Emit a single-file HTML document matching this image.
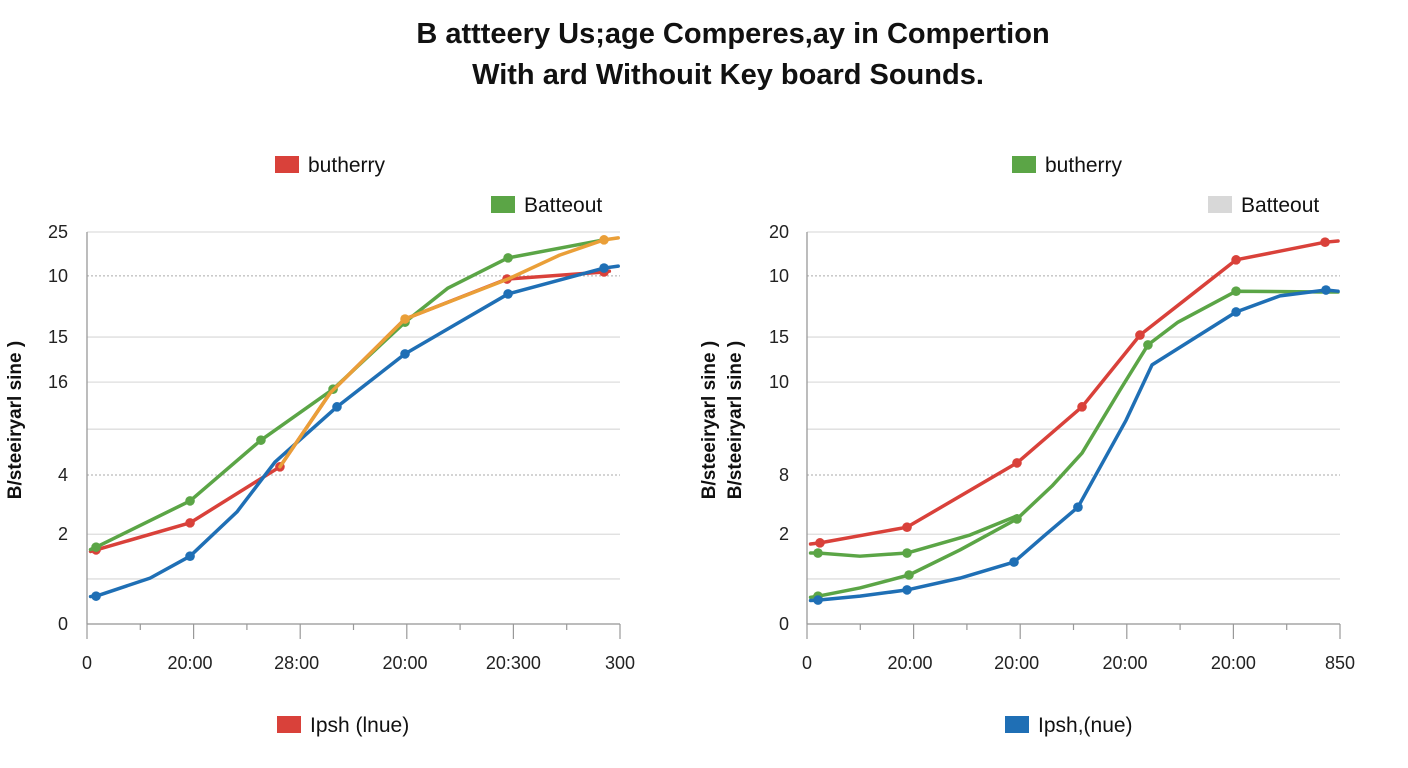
<!DOCTYPE html>
<html><head><meta charset="utf-8"><style>
html,body{margin:0;padding:0;background:#fff;}
svg{display:block;font-family:"Liberation Sans",Arial,sans-serif;}
</style></head><body>
<svg id="c" width="1408" height="768" viewBox="0 0 1408 768">
<text x="733" y="43" text-anchor="middle" font-size="29" font-weight="bold" fill="#111">B attteery  Us;age Comperes,ay in Compertion</text>
<text x="728" y="84" text-anchor="middle" font-size="29" font-weight="bold" fill="#111">With ard Withouit Key board Sounds.</text>
<g id="L"></g>
<g id="R"></g>
</svg>
<script>
// ---- data (x in minutes 0..300, y in battery units 0..100) ----
const yTickLabelsL = ["25","10","15","16","4","2","0"];
const yTickLabelsR = ["20","10","15","10","8","2","0"];
const yTickVals = [100,88.8,73.2,61.7,38,22.9,0];
const gridVals = [100,88.8,73.2,61.7,49.7,38,22.9,11.5,0];
const dottedVals = [88.8,38];
const xTickLabelsL = ["0","20:00","28:00","20:00","20:300","300"];
const xTickLabelsR = ["0","20:00","20:00","20:00","20:00","850"];
const xTickVals = [0,58,118,179,240,300];

const redLx=[2,5.1,58,108.6,118.8,136.8,179,236.4,291,294], redLy=[18.5,18.9,25.8,40.1,46.9,58.9,77.8,88.0,89.8,90], redLm=[0,1,1,1,0,0,0,1,1,0];
const greenLx=[2,5.1,58,97.9,138.5,179,203.2,237,291], greenLy=[19,19.6,31.4,46.9,59.9,77.0,85.7,93.4,98.0], greenLm=[0,1,1,1,1,1,0,1,0];
const blueLx=[2,5.1,35.5,58,84.4,105.8,140.7,179,207,237,291,299], blueLy=[7,7.1,11.7,17.3,28.6,41.3,55.4,68.9,76.3,84.2,90.8,91.3], blueLm=[0,1,0,1,0,0,1,1,0,1,1,0];
const orangeLx=[108.6,118.8,136.8,179,237,266,291,299], orangeLy=[40.1,46.9,58.9,77.8,88.0,94.1,98.0,98.5], orangeLm=[0,0,0,1,0,0,1,0];

const redRx=[2,7.3,56.3,118.2,154.8,187.4,212.8,241.5,291.6,298.9], redRy=[20.4,20.7,24.7,41.1,55.4,73.7,82.7,92.9,97.4,97.7], redRm=[0,1,1,1,1,1,0,1,1,0];
const greenARx=[2,6.2,29.8,56.3,91.7,118.2], greenARy=[18.1,18.1,17.3,18.1,22.7,27.6], greenARm=[0,1,0,1,0,0];
const greenBRx=[2,6.2,29.8,57.4,86.1,118.2,137.9,154.8,176.2,191.9,208.8,241.5,291.6,298.9], greenBRy=[6.8,7.1,9.2,12.5,18.9,26.8,35.2,43.6,59.7,71.2,77.0,84.9,84.7,84.7], greenBRm=[0,1,0,1,0,1,0,0,0,1,0,1,0,0];
const blueRx=[2,6.2,29.8,56.3,86.1,116.5,134,152.5,179.6,194.2,241.5,266.2,292.1,298.9], blueRy=[6.0,6.1,7.1,8.7,11.7,15.8,22.7,29.8,52.0,66.1,79.6,83.7,85.2,84.9], blueRm=[0,1,0,1,0,1,0,1,0,0,1,0,1,0];

const NS="http://www.w3.org/2000/svg";
function mk(parent,tag,attrs,txt){const e=document.createElementNS(NS,tag);for(const k in attrs)e.setAttribute(k,attrs[k]);if(txt!=null)e.textContent=txt;parent.appendChild(e);return e;}
const Y0=624,Y1=232;
function yS(v){return Y0-(v/100)*(Y0-Y1);}

function panel(g,x0,x1,yLabels,xLabels,yLabX,series,legs){
  const xS=v=>x0+(v/300)*(x1-x0);
  gridVals.forEach(v=>{
    const dotted=dottedVals.includes(v);
    const l=mk(g,'line',{x1:x0,x2:x1,y1:yS(v),y2:yS(v),stroke:dotted?'#aaa':'#ddd','stroke-width':dotted?1:1.3,'stroke-dasharray':dotted?'2,2':''});
    
    
  });
  mk(g,'line',{x1:x0,x2:x0,y1:Y1,y2:Y0,stroke:'#999','stroke-width':1.3});
  mk(g,'line',{x1:x0,x2:x1,y1:Y0,y2:Y0,stroke:'#999','stroke-width':1.3});
  for(let i=0;i<=10;i++){const xx=x0+i*(x1-x0)/10;mk(g,'line',{x1:xx,x2:xx,y1:Y0,y2:Y0+(i%2?6:15),stroke:'#999','stroke-width':1.2});}
  yLabels.forEach((t,i)=>{
    const e=mk(g,'text',{x:yLabX,y:yS(yTickVals[i])+6,'text-anchor':'end','font-size':18,fill:'#222'},t);
    
    
  });
  xLabels.forEach((t,i)=>{
    const e=mk(g,'text',{x:xS(xTickVals[i]),y:669,'text-anchor':'middle','font-size':18,fill:'#222'},t);
    
    
  });
  series.forEach(s=>{
    const pts=s.x.map((v,i)=>xS(v)+','+yS(s.y[i])).join(' ');
    const p=mk(g,'polyline',{points:pts,fill:'none',stroke:s.c,'stroke-width':3.5,'stroke-linejoin':'round','stroke-linecap':'round'});
    
    
    s.x.forEach((v,i)=>{ if(s.m[i]){
      const c=mk(g,'circle',{cx:xS(v),cy:yS(s.y[i]),r:4.8,fill:s.c});
      
      
    }});
  });
  legs.forEach(l=>{
    mk(g,'rect',{x:l.x,y:l.y-9,width:24,height:17,fill:l.c});
    const t=mk(g,'text',{x:l.x+33,y:l.y+7,'font-size':21,fill:'#111'},l.t);
    
    
  });
}
panel(document.getElementById('L'),87,620,yTickLabelsL,xTickLabelsL,68,[
  {x:redLx,y:redLy,m:redLm,c:'#d9413a',n:'left-red-line'},
  {x:greenLx,y:greenLy,m:greenLm,c:'#5ba546',n:'left-green-line'},
  {x:blueLx,y:blueLy,m:blueLm,c:'#1f6fb5',n:'left-blue-line'},
  {x:orangeLx,y:orangeLy,m:orangeLm,c:'#ea9f38',n:'left-orange-line'}
],[{x:275,y:165,c:'#d9413a',t:'butherry'},{x:491,y:205,c:'#5ba546',t:'Batteout'},{x:277,y:725,c:'#d9413a',t:'Ipsh (lnue)'}]);
panel(document.getElementById('R'),807,1340,yTickLabelsR,xTickLabelsR,789,[
  {x:redRx,y:redRy,m:redRm,c:'#d9413a',n:'right-red-line'},
  {x:greenARx,y:greenARy,m:greenARm,c:'#5ba546',n:'right-green-upper-line'},
  {x:greenBRx,y:greenBRy,m:greenBRm,c:'#5ba546',n:'right-green-lower-line'},
  {x:blueRx,y:blueRy,m:blueRm,c:'#1f6fb5',n:'right-blue-line'}
],[{x:1012,y:165,c:'#5ba546',t:'butherry'},{x:1208,y:205,c:'#d8d8d8',t:'Batteout'},{x:1005,y:725,c:'#1f6fb5',t:'Ipsh,(nue)'}]);
const svg=document.getElementById('c');
[[15,'B/steeiryarl sine )','left-y-axis-title'],[709,'B/steeiryarl sine )','right-y-axis-title-1'],[735,'B/steeiryarl sine )','right-y-axis-title-2']].forEach(a=>{
  const t=mk(svg,'text',{x:0,y:0,transform:'translate('+(a[0]+6)+',420) rotate(-90)','text-anchor':'middle','font-size':19,'font-weight':'bold',fill:'#111'},a[1]);
  
  
});
</script>
</body></html>
